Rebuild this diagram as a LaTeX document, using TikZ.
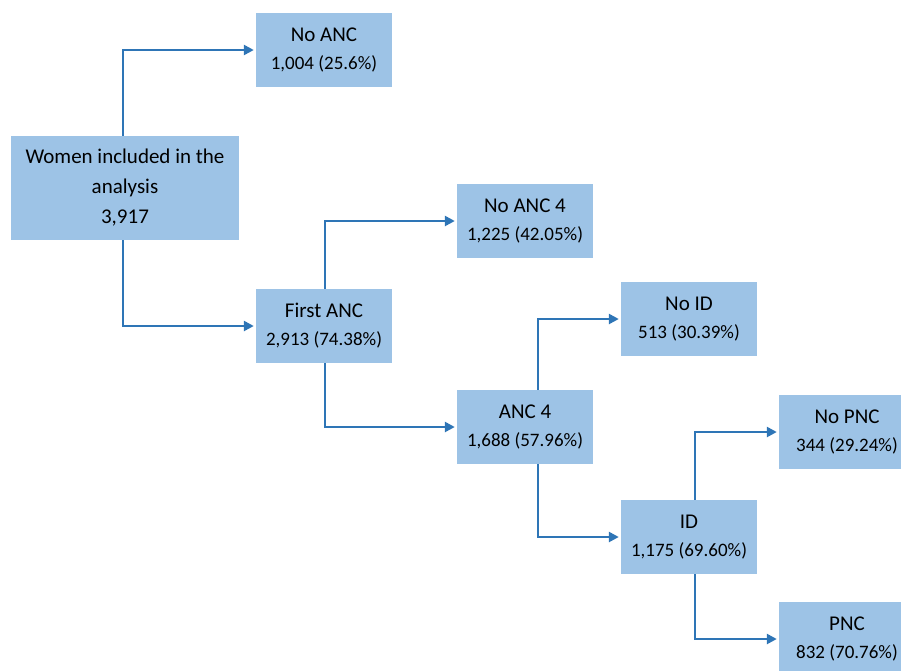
\documentclass[tikz,border=0pt]{standalone}
\usepackage{fontspec}
\setmainfont{Carlito}
\usetikzlibrary{arrows.meta}
\definecolor{boxblue}{HTML}{9DC3E6}
\definecolor{lineblue}{HTML}{2E75B6}
\newcommand{\cnt}[1]{{\fontsize{19}{28}\selectfont #1}}

\begin{document}
\begin{tikzpicture}[x=1pt, y=-1pt, >={Triangle[length=10pt,width=10pt]},
  box/.style={fill=boxblue, minimum width=136pt, minimum height=74pt, inner sep=0pt,
    align=center, font=\fontsize{21}{28}\selectfont}]
  \useasboundingbox (0,0) rectangle (901,670);
  \node[box, minimum width=228pt, minimum height=104pt, font=\fontsize{21}{30}\selectfont] (women) at (125,188)
    {Women included in the\\analysis\\3,917};
  \node[box] (noanc) at (324,50) {No ANC\\\cnt{1,004 (25.6\%)}};
  \node[box] (firstanc) at (324,326) {First ANC\\\cnt{2,913 (74.38\%)}};
  \node[box] (noanc4) at (525,221) {No ANC 4\\\cnt{1,225 (42.05\%)}};
  \node[box] (anc4) at (525,427) {ANC 4\\\cnt{1,688 (57.96\%)}};
  \node[box] (noid) at (689,319) {No ID\\\cnt{513 (30.39\%)}};
  \node[box] (id) at (689,537) {ID\\\cnt{1,175 (69.60\%)}};
  \node[box] (nopnc) at (847,432) {No PNC\\\cnt{344 (29.24\%)}};
  \node[box] (pnc) at (847,639) {PNC\\\cnt{832 (70.76\%)}};
  \path[->, lineblue, line width=2.4pt, shorten >=2pt]
  ([xshift=-2pt]women.north) edge[to path={|- (\tikztotarget)}] (noanc)
  ([xshift=-2pt]women.south) edge[to path={|- (\tikztotarget)}] (firstanc)
  ([xshift=1pt]firstanc.north) edge[to path={|- (\tikztotarget)}] (noanc4)
  ([xshift=1pt]firstanc.south) edge[to path={|- (\tikztotarget)}] (anc4)
  ([xshift=13pt]anc4.north) edge[to path={|- (\tikztotarget)}] (noid)
  ([xshift=13pt]anc4.south) edge[to path={|- (\tikztotarget)}] (id)
  ([xshift=6pt]id.north) edge[to path={|- (\tikztotarget)}] (nopnc)
  ([xshift=6pt]id.south) edge[to path={|- (\tikztotarget)}] (pnc)
;
\end{tikzpicture}
\end{document}
